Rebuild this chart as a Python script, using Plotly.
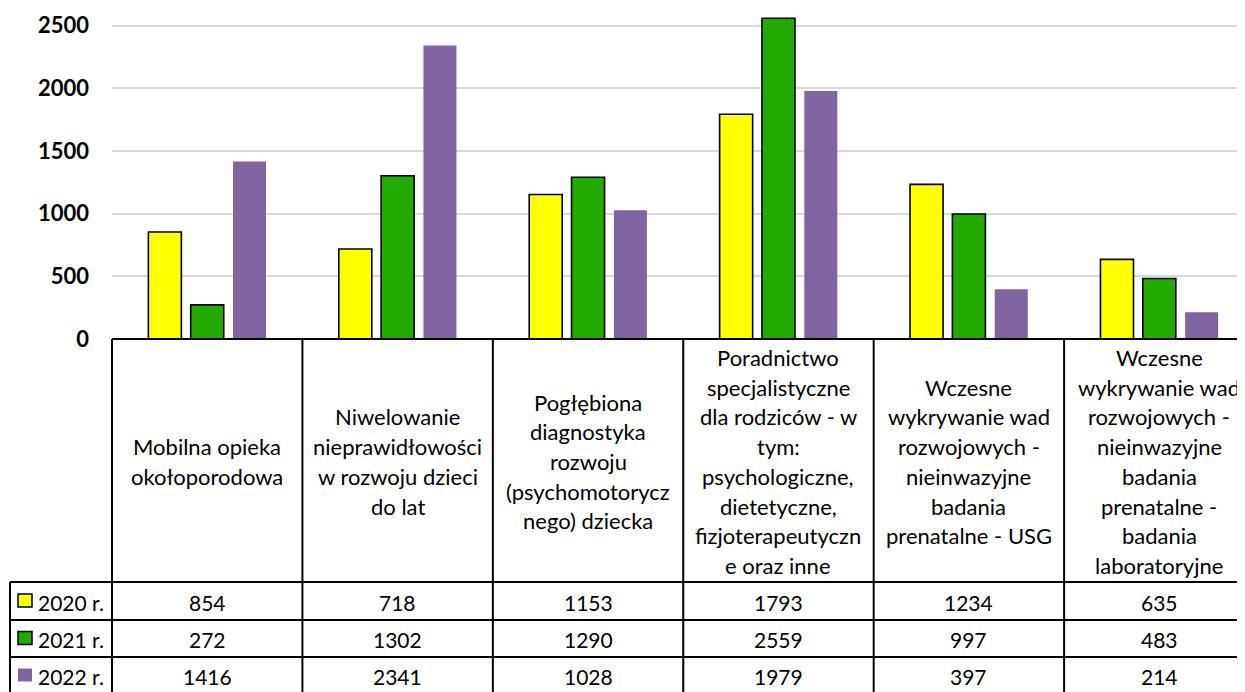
import plotly.graph_objects as go

# ---------------- data ----------------
category_lines = [
    ["Mobilna opieka", "okołoporodowa"],
    ["Niwelowanie", "nieprawidłowości", "w rozwoju dzieci", "do lat"],
    ["Pogłębiona", "diagnostyka", "rozwoju", "(psychomotorycz", "nego) dziecka"],
    ["Poradnictwo", "specjalistyczne", "dla rodziców - w", "tym:", "psychologiczne,",
     "dietetyczne,", "fizjoterapeutyczn", "e oraz inne"],
    ["Wczesne", "wykrywanie wad", "rozwojowych -", "nieinwazyjne", "badania",
     "prenatalne - USG"],
    ["Wczesne", "wykrywanie wad", "rozwojowych -", "nieinwazyjne", "badania",
     "prenatalne -", "badania", "laboratoryjne"],
]
categories = [" ".join(lines) for lines in category_lines]
series_names = ["2020 r.", "2021 r.", "2022 r."]
values_2020 = [854, 718, 1153, 1793, 1234, 635]
values_2021 = [272, 1302, 1290, 2559, 997, 483]
values_2022 = [1416, 2341, 1028, 1979, 397, 214]
y_ticks = [0, 500, 1000, 1500, 2000, 2500]

series_values = [values_2020, values_2021, values_2022]
colors = ["#FFFF00", "#22AA00", "#8064A2"]
outline = [1.6, 1.6, 0]

# ---------------- layout geometry (window pixels, page has 8px body margin) ----------------
OFF = 8
WIN_W, WIN_H = 1245, 692
W, H = WIN_W - OFF, WIN_H - OFF
AXIS_X = 112          # window x of plot-area left edge
ZERO_Y = 339          # window y of value 0
TOP_Y = 10            # window y of plot-area top
ML = AXIS_X - OFF
MT = TOP_Y - OFF
MB = H - (ZERO_Y - OFF)
MR = 0
PLOT_H = H - MT - MB
PLOT_W = W - ML - MR
PX_PER_UNIT = 0.12533
FONT = "Lato"
FS = 21
FS_CAT = 22


def py(Y):
    """window pixel y -> paper y"""
    return (ZERO_Y - Y) / PLOT_H


def px(X):
    """window pixel x -> paper x"""
    return (X - AXIS_X) / PLOT_W


fig = go.Figure()
for name, vals, col, lw in zip(series_names, series_values, colors, outline):
    fig.add_trace(go.Bar(
        x=categories, y=vals, name=name,
        marker=dict(color=col, line=dict(color="#000000", width=lw)),
        showlegend=False,
    ))

shapes = []
line_style = dict(color="#000000", width=2)
head_bot, row1, row2, bot_y = 582, 620, 657, 710
# horizontal table lines
shapes.append(dict(type="line", xref="paper", yref="paper", x0=0, x1=1.02,
                   y0=py(ZERO_Y), y1=py(ZERO_Y), line=line_style))
for Y in (head_bot, row1, row2):
    shapes.append(dict(type="line", xref="paper", yref="paper", x0=px(10), x1=1.02,
                       y0=py(Y), y1=py(Y), line=line_style))
# vertical lines
shapes.append(dict(type="line", xref="paper", yref="paper", x0=0, x1=0,
                   y0=py(ZERO_Y), y1=py(bot_y), line=line_style))
shapes.append(dict(type="line", xref="paper", yref="paper", x0=px(10), x1=px(10),
                   y0=py(head_bot), y1=py(bot_y), line=line_style))
for i in range(1, len(categories) + 1):
    shapes.append(dict(type="line", xref="x", yref="paper", x0=i - 0.5, x1=i - 0.5,
                       y0=py(ZERO_Y), y1=py(bot_y), line=line_style))

annotations = []
# category labels, centred in the header cell
pitch = 29.7
center = (ZERO_Y + head_bot) / 2 + 1
for i, lines in enumerate(category_lines):
    n = len(lines)
    for k, txt in enumerate(lines):
        Y = center + (k - (n - 1) / 2) * pitch
        annotations.append(dict(x=i, xref="x", y=py(Y), yref="paper", text=txt,
                                showarrow=False, xanchor="center", yanchor="middle",
                                font=dict(family=FONT, size=FS_CAT, color="#000000")))
# data rows
row_centers = [(head_bot + row1) / 2 + 1, (row1 + row2) / 2 + 1, (row2 + 694) / 2 + 1]
for r, (name, vals, col, lw) in enumerate(zip(series_names, series_values, colors, outline)):
    Yc = row_centers[r]
    for i, v in enumerate(vals):
        annotations.append(dict(x=i, xref="x", y=py(Yc), yref="paper", text=str(v),
                                showarrow=False, xanchor="center", yanchor="middle",
                                font=dict(family=FONT, size=FS, color="#000000")))
    # legend key
    shapes.append(dict(type="rect", xref="paper", yref="paper",
                       x0=px(18), x1=px(32), y0=py(Yc - 8), y1=py(Yc + 5),
                       fillcolor=col,
                       line=dict(color="#000000" if lw else col, width=1.5 if lw else 0)))
    annotations.append(dict(x=px(36), xref="paper", y=py(Yc), yref="paper", text=name,
                            showarrow=False, xanchor="left", yanchor="middle",
                            font=dict(family=FONT, size=FS, color="#000000")))

fig.update_layout(
    width=W, height=H,
    margin=dict(l=ML, r=MR, t=MT, b=MB, pad=0),
    paper_bgcolor="#FFFFFF", plot_bgcolor="#FFFFFF",
    barmode="group", bargap=0.333, bargroupgap=0.22,
    shapes=shapes, annotations=annotations,
    font=dict(family=FONT, color="#000000"),
    xaxis=dict(type="category", range=[-0.5, 5.45], showticklabels=False,
               showgrid=False, zeroline=False, showline=False, fixedrange=True),
    yaxis=dict(range=[0, PLOT_H / PX_PER_UNIT], tickvals=y_ticks,
               ticktext=[str(t) for t in y_ticks],
               showgrid=True, gridcolor="#D9D9D9", gridwidth=1.6,
               zeroline=False, showline=False, ticks="",
               ticklabelstandoff=22,
               tickfont=dict(family=FONT, size=22, color="#000000", weight="bold")),
)

fig.write_html("out.html")
